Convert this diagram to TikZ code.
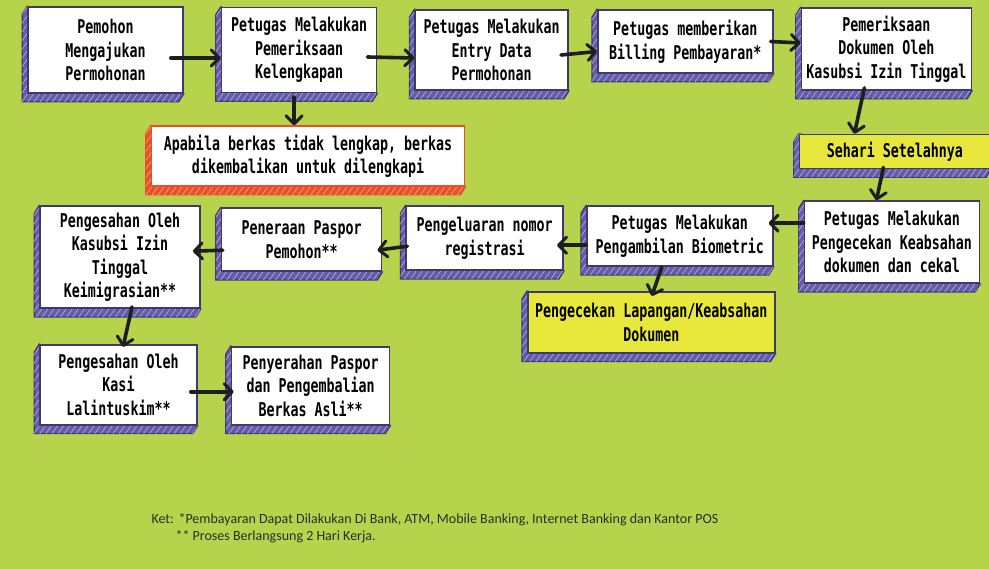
\documentclass[tikz,border=0pt]{standalone}
\usepackage{fontspec}
\setmainfont{Carlito}
\newfontfamily\boxfont{DejaVu Sans Mono}[FakeStretch=0.7]
\usepackage{tikz}
\usetikzlibrary{arrows.meta,positioning,backgrounds,patterns.meta}
\definecolor{bggreen}{RGB}{183,210,75}
\definecolor{sidepurple}{RGB}{100,92,170}
\definecolor{sidehatch}{RGB}{175,170,218}
\definecolor{edgeblue}{RGB}{62,58,112}
\definecolor{boxyellow}{RGB}{232,232,60}
\definecolor{errred}{RGB}{232,80,42}
\definecolor{errhatch}{RGB}{247,160,120}
\definecolor{arrowblack}{RGB}{30,30,30}
\definecolor{notegray}{RGB}{45,45,45}

\begin{document}
\begin{tikzpicture}[
    box/.style={rectangle, draw=edgeblue, line width=1.6pt, fill=white, inner sep=2pt, align=center, font=\boxfont\bfseries\fontsize{19pt}{23.5pt}\selectfont},
    side/.style={fill=sidepurple, draw=edgeblue, line width=1.2pt, postaction={pattern={Lines[angle=55,distance=5pt,line width=0.7pt]}, pattern color=sidehatch}},
    redside/.style={fill=errred, draw=errred, line width=1.2pt, postaction={pattern={Lines[angle=55,distance=5pt,line width=0.7pt]}, pattern color=errhatch}},
    arrow/.style={-{Straight Barb[length=8pt,width=16pt,line width=3pt,round]}, line width=3.6pt, draw=arrowblack, line cap=round},
    note/.style={anchor=base west, text=notegray, font=\fontsize{14pt}{16pt}\selectfont}
]
\useasboundingbox (0,0) rectangle (989pt,-569pt);

% Row 1
\node[box, minimum width=155pt, minimum height=86pt] (pemohon) at (105.5pt,-50pt) {Pemohon\\Mengajukan\\Permohonan};
\node[box, minimum width=155pt, minimum height=85pt, right=37pt of pemohon] (periksa) {Petugas Melakukan\\Pemeriksaan\\Kelengkapan};
\node[box, minimum width=153pt, minimum height=80pt, right=37pt of periksa] (entry) {Petugas Melakukan\\Entry Data\\Permohonan};
\node[box, minimum width=175pt, minimum height=63pt, right=28pt of entry.north east, anchor=north west] (billing) {Petugas memberikan\\Billing Pembayaran*};
\node[box, minimum width=170pt, minimum height=82pt, right=27pt of billing.north east, anchor=north west, yshift=2pt] (kasubsi) {Pemeriksaan\\Dokumen Oleh\\Kasubsi Izin Tinggal};

% Incomplete files
\node[box, draw=errred, minimum width=313pt, minimum height=60pt, below=32pt of periksa, xshift=9pt] (kembali) {Apabila berkas tidak lengkap, berkas\\dikembalikan untuk dilengkapi};

% Right column
\node[box, fill=boxyellow, minimum width=191pt, minimum height=34pt, below=43pt of kasubsi, xshift=8.5pt] (sehari) {Sehari Setelahnya};
\node[box, minimum width=175pt, minimum height=82pt, below=31pt of sehari, xshift=-3pt] (cekal) {Petugas Melakukan\\Pengecekan Keabsahan\\dokumen dan cekal};

% Row 2
\node[box, minimum width=186pt, minimum height=60pt, left=30pt of cekal, yshift=6pt] (biometric) {Petugas Melakukan\\Pengambilan Biometric};
\node[box, minimum width=157pt, minimum height=64pt, left=22pt of biometric, yshift=-2pt] (nomor) {Pengeluaran nomor\\registrasi};
\node[box, minimum width=160pt, minimum height=63pt, left=23pt of nomor, yshift=-1.5pt] (peneraan) {Peneraan Paspor\\Pemohon**};
\node[box, minimum width=160pt, minimum height=102pt, left=20pt of peneraan.north west, anchor=north east, yshift=2pt] (sahkasubsi) {Pengesahan Oleh\\Kasubsi Izin\\Tinggal\\Keimigrasian**};
\node[box, fill=boxyellow, minimum width=247pt, minimum height=61pt, below=24pt of biometric, xshift=-28.5pt] (lapangan) {Pengecekan Lapangan/Keabsahan\\Dokumen};

% Row 3
\node[box, minimum width=157pt, minimum height=80pt, below=35pt of sahkasubsi, xshift=-1.5pt] (sahkasi) {Pengesahan Oleh\\Kasi\\Lalintuskim**};
\node[box, minimum width=158pt, minimum height=78pt, right=33pt of sahkasi, yshift=-1pt] (serah) {Penyerahan Paspor\\dan Pengembalian\\Berkas Asli**};

% Background and box sides
\begin{scope}[on background layer]
\fill[bggreen] (0,0) rectangle (989pt,-569pt);
\foreach \b in {pemohon,periksa,entry,billing,kasubsi,sehari,cekal,biometric,nomor,peneraan,sahkasubsi,lapangan,sahkasi,serah}
  \filldraw[side] (\b.north west) -- ++(-5pt,-8pt) |- ([shift={(-5pt,-8pt)}]\b.south east) -- (\b.south east) -- cycle;
\filldraw[redside] (kembali.north west) -- ++(-5pt,-8pt) |- ([shift={(-5pt,-8pt)}]kembali.south east) -- (kembali.south east) -- cycle;
\end{scope}

% Arrows
\draw[arrow] ([xshift=-13pt,yshift=-8pt]pemohon.east) -- ([yshift=-8pt]periksa.west);
\draw[arrow] ([xshift=-10pt,yshift=-7pt]periksa.east) -- ([yshift=-8pt]entry.west);
\draw[arrow] ([xshift=-8pt,yshift=-5pt]entry.east) -- ([yshift=-10pt]billing.west);
\draw[arrow] ([xshift=-3pt]billing.east) -- ([yshift=6pt]kasubsi.west);
\draw[arrow] ([xshift=-5pt,yshift=-4pt]periksa.south) -- ([xshift=-5pt]periksa.south |- kembali.north);
\draw[arrow] ([xshift=-22pt,yshift=3pt]kasubsi.south) -- ([xshift=-40.5pt]sehari.north);
\draw[arrow] ([xshift=-11.5pt,yshift=2pt]sehari.south) -- ([xshift=-15.5pt]cekal.north);
\draw[arrow] ([yshift=19pt]cekal.west) -- ([xshift=-5pt,yshift=13pt]biometric.east);
\draw[arrow] ([yshift=-9pt]biometric.west) -- ([xshift=-7pt,yshift=-7pt]nomor.east);
\draw[arrow] ([xshift=2pt,yshift=-8pt]nomor.west) -- ([xshift=-5pt,yshift=-10.5pt]peneraan.east);
\draw[arrow] ([xshift=2pt,yshift=-10.5pt]peneraan.west) -- ([xshift=-8pt,yshift=6pt]sahkasubsi.east);
\draw[arrow] ([xshift=-18pt]biometric.south) -- ([xshift=0.5pt,yshift=-5pt]lapangan.north);
\draw[arrow] ([xshift=12pt,yshift=2pt]sahkasubsi.south) -- ([xshift=4.5pt,yshift=-3pt]sahkasi.north);
\draw[arrow] ([xshift=-7pt,yshift=-7pt]sahkasi.east) -- ([xshift=3pt,yshift=-6pt]serah.west);

% Notes
\node[note] (ket) at (148pt,-523pt) {Ket:};
\node[note] (note1) at (175pt,-523pt) {*Pembayaran Dapat Dilakukan Di Bank, ATM, Mobile Banking, Internet Banking dan Kantor POS};
\node[note] (note2) at (172pt,-540pt) {** Proses Berlangsung 2 Hari Kerja.};

\end{tikzpicture}
\end{document}
